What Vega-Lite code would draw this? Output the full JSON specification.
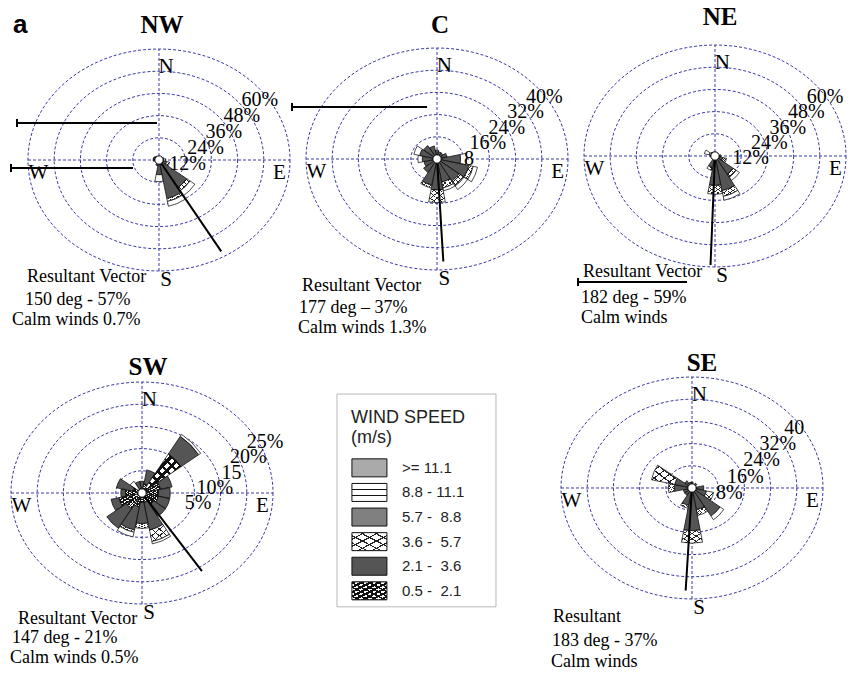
{
  "$schema": "https://vega.github.io/schema/vega-lite/v6.json",
  "width": 855,
  "height": 673,
  "autosize": {"type": "fit", "contains": "padding"},
  "padding": 0,
  "background": "#ffffff",
  "config": {"view": {"stroke": null}, "axis": {"disable": true}, "legend": {"disable": true}},
  "datasets": {
    "rings": [
      {"site": "NW", "r": 12, "lab": "12%"}, {"site": "NW", "r": 24, "lab": "24%"}, {"site": "NW", "r": 36, "lab": "36%"}, {"site": "NW", "r": 48, "lab": "48%"}, {"site": "NW", "r": 60, "lab": "60%"},
      {"site": "C", "r": 8, "lab": "8"}, {"site": "C", "r": 16, "lab": "16%"}, {"site": "C", "r": 24, "lab": "24%"}, {"site": "C", "r": 32, "lab": "32%"}, {"site": "C", "r": 40, "lab": "40%"},
      {"site": "NE", "r": 12, "lab": "12%"}, {"site": "NE", "r": 24, "lab": "24%"}, {"site": "NE", "r": 36, "lab": "36%"}, {"site": "NE", "r": 48, "lab": "48%"}, {"site": "NE", "r": 60, "lab": "60%"},
      {"site": "SW", "r": 5, "lab": "5%"}, {"site": "SW", "r": 10, "lab": "10%"}, {"site": "SW", "r": 15, "lab": "15"}, {"site": "SW", "r": 20, "lab": "20%"}, {"site": "SW", "r": 25, "lab": "25%"},
      {"site": "SE", "r": 8, "lab": "8%"}, {"site": "SE", "r": 16, "lab": "16%"}, {"site": "SE", "r": 24, "lab": "24%"}, {"site": "SE", "r": 32, "lab": "32%"}, {"site": "SE", "r": 40, "lab": "40"}
    ],
    "compass": [
      {"lab": "N", "d": 0}, {"lab": "E", "d": 90}, {"lab": "S", "d": 180}, {"lab": "W", "d": 270}
    ],
    "vectors": [
      {"site": "NW", "deg": 150, "pct": 57, "head": "Resultant Vector", "calm": "Calm winds 0.7%"},
      {"site": "C", "deg": 177, "pct": 37, "head": "Resultant Vector", "calm": "Calm winds 1.3%"},
      {"site": "NE", "deg": 182, "pct": 59, "head": "Resultant Vector", "calm": "Calm winds"},
      {"site": "SW", "deg": 147, "pct": 21, "head": "Resultant Vector", "calm": "Calm winds 0.5%"},
      {"site": "SE", "deg": 183, "pct": 37, "head": "Resultant", "calm": "Calm winds"}
    ],
    "classes": [
      {"cls": "c6", "lab": ">= 11.1", "k": 1},
      {"cls": "c5", "lab": "\u00a08.8 - 11.1", "k": 2},
      {"cls": "c4", "lab": "\u00a05.7 -\u00a0 8.8", "k": 3},
      {"cls": "c3", "lab": "\u00a03.6 -\u00a0 5.7", "k": 4},
      {"cls": "c2", "lab": "\u00a02.1 -\u00a0 3.6", "k": 5},
      {"cls": "c1", "lab": "\u00a00.5 -\u00a0 2.1", "k": 6}
    ],
    "wedges": [
      {"site": "NW", "dir": 0, "cls": "c2", "pct": 1.5},
      {"site": "NW", "dir": 22.5, "cls": "c2", "pct": 1.5},
      {"site": "NW", "dir": 45, "cls": "c1", "pct": 1}, {"site": "NW", "dir": 45, "cls": "c3", "pct": 1},
      {"site": "NW", "dir": 67.5, "cls": "c1", "pct": 1}, {"site": "NW", "dir": 67.5, "cls": "c2", "pct": 1.5},
      {"site": "NW", "dir": 90, "cls": "c1", "pct": 1}, {"site": "NW", "dir": 90, "cls": "c3", "pct": 2.5},
      {"site": "NW", "dir": 112.5, "cls": "c1", "pct": 1}, {"site": "NW", "dir": 112.5, "cls": "c2", "pct": 3}, {"site": "NW", "dir": 112.5, "cls": "c3", "pct": 1.5},
      {"site": "NW", "dir": 135, "cls": "c1", "pct": 2}, {"site": "NW", "dir": 135, "cls": "c2", "pct": 15}, {"site": "NW", "dir": 135, "cls": "c3", "pct": 2}, {"site": "NW", "dir": 135, "cls": "c5", "pct": 3},
      {"site": "NW", "dir": 157.5, "cls": "c1", "pct": 2}, {"site": "NW", "dir": 157.5, "cls": "c2", "pct": 18}, {"site": "NW", "dir": 157.5, "cls": "c3", "pct": 1.5}, {"site": "NW", "dir": 157.5, "cls": "c5", "pct": 2.5},
      {"site": "NW", "dir": 180, "cls": "c1", "pct": 1}, {"site": "NW", "dir": 180, "cls": "c2", "pct": 6.5}, {"site": "NW", "dir": 180, "cls": "c5", "pct": 3.5},
      {"site": "NW", "dir": 202.5, "cls": "c1", "pct": 1}, {"site": "NW", "dir": 202.5, "cls": "c2", "pct": 2},
      {"site": "NW", "dir": 225, "cls": "c2", "pct": 1.5},
      {"site": "NW", "dir": 247.5, "cls": "c2", "pct": 1.5},
      {"site": "NW", "dir": 270, "cls": "c1", "pct": 1}, {"site": "NW", "dir": 270, "cls": "c2", "pct": 2},
      {"site": "NW", "dir": 292.5, "cls": "c2", "pct": 3},
      {"site": "NW", "dir": 315, "cls": "c2", "pct": 2.5},
      {"site": "NW", "dir": 337.5, "cls": "c2", "pct": 1.5},

      {"site": "C", "dir": 0, "cls": "c1", "pct": 1}, {"site": "C", "dir": 0, "cls": "c2", "pct": 2},
      {"site": "C", "dir": 22.5, "cls": "c1", "pct": 1}, {"site": "C", "dir": 22.5, "cls": "c2", "pct": 1.5},
      {"site": "C", "dir": 45, "cls": "c1", "pct": 1}, {"site": "C", "dir": 45, "cls": "c2", "pct": 1.5},
      {"site": "C", "dir": 67.5, "cls": "c1", "pct": 1}, {"site": "C", "dir": 67.5, "cls": "c2", "pct": 2.5},
      {"site": "C", "dir": 90, "cls": "c1", "pct": 1}, {"site": "C", "dir": 90, "cls": "c2", "pct": 7}, {"site": "C", "dir": 90, "cls": "c5", "pct": 2},
      {"site": "C", "dir": 112.5, "cls": "c1", "pct": 1}, {"site": "C", "dir": 112.5, "cls": "c2", "pct": 10}, {"site": "C", "dir": 112.5, "cls": "c3", "pct": 1.5}, {"site": "C", "dir": 112.5, "cls": "c5", "pct": 1.5},
      {"site": "C", "dir": 135, "cls": "c1", "pct": 1}, {"site": "C", "dir": 135, "cls": "c2", "pct": 8}, {"site": "C", "dir": 135, "cls": "c3", "pct": 2}, {"site": "C", "dir": 135, "cls": "c5", "pct": 1.5},
      {"site": "C", "dir": 157.5, "cls": "c1", "pct": 1}, {"site": "C", "dir": 157.5, "cls": "c2", "pct": 7}, {"site": "C", "dir": 157.5, "cls": "c3", "pct": 2}, {"site": "C", "dir": 157.5, "cls": "c5", "pct": 1},
      {"site": "C", "dir": 180, "cls": "c1", "pct": 1.5}, {"site": "C", "dir": 180, "cls": "c2", "pct": 9}, {"site": "C", "dir": 180, "cls": "c3", "pct": 4.3},
      {"site": "C", "dir": 202.5, "cls": "c1", "pct": 1}, {"site": "C", "dir": 202.5, "cls": "c2", "pct": 8}, {"site": "C", "dir": 202.5, "cls": "c3", "pct": 1},
      {"site": "C", "dir": 225, "cls": "c1", "pct": 1}, {"site": "C", "dir": 225, "cls": "c2", "pct": 4.5},
      {"site": "C", "dir": 247.5, "cls": "c1", "pct": 1}, {"site": "C", "dir": 247.5, "cls": "c2", "pct": 3.5},
      {"site": "C", "dir": 270, "cls": "c1", "pct": 1}, {"site": "C", "dir": 270, "cls": "c2", "pct": 4}, {"site": "C", "dir": 270, "cls": "c5", "pct": 1.5},
      {"site": "C", "dir": 292.5, "cls": "c1", "pct": 1}, {"site": "C", "dir": 292.5, "cls": "c2", "pct": 5}, {"site": "C", "dir": 292.5, "cls": "c5", "pct": 2},
      {"site": "C", "dir": 315, "cls": "c1", "pct": 1}, {"site": "C", "dir": 315, "cls": "c2", "pct": 4.5},
      {"site": "C", "dir": 337.5, "cls": "c1", "pct": 1}, {"site": "C", "dir": 337.5, "cls": "c2", "pct": 3.5},

      {"site": "NE", "dir": 0, "cls": "c2", "pct": 1.5},
      {"site": "NE", "dir": 45, "cls": "c2", "pct": 1},
      {"site": "NE", "dir": 90, "cls": "c1", "pct": 1}, {"site": "NE", "dir": 90, "cls": "c2", "pct": 2},
      {"site": "NE", "dir": 112.5, "cls": "c1", "pct": 1}, {"site": "NE", "dir": 112.5, "cls": "c2", "pct": 3}, {"site": "NE", "dir": 112.5, "cls": "c3", "pct": 2},
      {"site": "NE", "dir": 135, "cls": "c1", "pct": 1}, {"site": "NE", "dir": 135, "cls": "c2", "pct": 10}, {"site": "NE", "dir": 135, "cls": "c3", "pct": 2}, {"site": "NE", "dir": 135, "cls": "c5", "pct": 2},
      {"site": "NE", "dir": 157.5, "cls": "c1", "pct": 1}, {"site": "NE", "dir": 157.5, "cls": "c2", "pct": 17}, {"site": "NE", "dir": 157.5, "cls": "c3", "pct": 3}, {"site": "NE", "dir": 157.5, "cls": "c5", "pct": 2},
      {"site": "NE", "dir": 180, "cls": "c1", "pct": 2}, {"site": "NE", "dir": 180, "cls": "c2", "pct": 13}, {"site": "NE", "dir": 180, "cls": "c3", "pct": 4.5},
      {"site": "NE", "dir": 202.5, "cls": "c1", "pct": 1}, {"site": "NE", "dir": 202.5, "cls": "c2", "pct": 5}, {"site": "NE", "dir": 202.5, "cls": "c3", "pct": 1.5},
      {"site": "NE", "dir": 225, "cls": "c2", "pct": 2},
      {"site": "NE", "dir": 270, "cls": "c1", "pct": 1}, {"site": "NE", "dir": 270, "cls": "c2", "pct": 1.5},
      {"site": "NE", "dir": 292.5, "cls": "c1", "pct": 1}, {"site": "NE", "dir": 292.5, "cls": "c3", "pct": 2}, {"site": "NE", "dir": 292.5, "cls": "c5", "pct": 2.5},
      {"site": "NE", "dir": 315, "cls": "c2", "pct": 2.5},
      {"site": "NE", "dir": 337.5, "cls": "c2", "pct": 2},

      {"site": "SW", "dir": 0, "cls": "c1", "pct": 0.5}, {"site": "SW", "dir": 0, "cls": "c2", "pct": 2},
      {"site": "SW", "dir": 22.5, "cls": "c1", "pct": 2}, {"site": "SW", "dir": 22.5, "cls": "c2", "pct": 3},
      {"site": "SW", "dir": 45, "cls": "c1", "pct": 10}, {"site": "SW", "dir": 45, "cls": "c2", "pct": 4.5}, {"site": "SW", "dir": 45, "cls": "c5", "pct": 0.5},
      {"site": "SW", "dir": 67.5, "cls": "c1", "pct": 4}, {"site": "SW", "dir": 67.5, "cls": "c2", "pct": 2.5},
      {"site": "SW", "dir": 90, "cls": "c1", "pct": 3.5}, {"site": "SW", "dir": 90, "cls": "c2", "pct": 2.5},
      {"site": "SW", "dir": 112.5, "cls": "c1", "pct": 3.5}, {"site": "SW", "dir": 112.5, "cls": "c2", "pct": 2.5},
      {"site": "SW", "dir": 135, "cls": "c1", "pct": 3}, {"site": "SW", "dir": 135, "cls": "c2", "pct": 3},
      {"site": "SW", "dir": 157.5, "cls": "c1", "pct": 2}, {"site": "SW", "dir": 157.5, "cls": "c2", "pct": 6}, {"site": "SW", "dir": 157.5, "cls": "c3", "pct": 2.5}, {"site": "SW", "dir": 157.5, "cls": "c5", "pct": 0.5},
      {"site": "SW", "dir": 180, "cls": "c1", "pct": 2}, {"site": "SW", "dir": 180, "cls": "c2", "pct": 4.5}, {"site": "SW", "dir": 180, "cls": "c3", "pct": 1},
      {"site": "SW", "dir": 202.5, "cls": "c1", "pct": 3}, {"site": "SW", "dir": 202.5, "cls": "c2", "pct": 5}, {"site": "SW", "dir": 202.5, "cls": "c3", "pct": 0.5}, {"site": "SW", "dir": 202.5, "cls": "c5", "pct": 1},
      {"site": "SW", "dir": 225, "cls": "c1", "pct": 4}, {"site": "SW", "dir": 225, "cls": "c2", "pct": 5},
      {"site": "SW", "dir": 247.5, "cls": "c1", "pct": 5}, {"site": "SW", "dir": 247.5, "cls": "c2", "pct": 1.7},
      {"site": "SW", "dir": 270, "cls": "c1", "pct": 3.5}, {"site": "SW", "dir": 270, "cls": "c2", "pct": 1},
      {"site": "SW", "dir": 292.5, "cls": "c1", "pct": 2}, {"site": "SW", "dir": 292.5, "cls": "c2", "pct": 3.5},
      {"site": "SW", "dir": 315, "cls": "c1", "pct": 1}, {"site": "SW", "dir": 315, "cls": "c5", "pct": 2},
      {"site": "SW", "dir": 337.5, "cls": "c1", "pct": 1}, {"site": "SW", "dir": 337.5, "cls": "c2", "pct": 1.5},

      {"site": "SE", "dir": 0, "cls": "c2", "pct": 2},
      {"site": "SE", "dir": 45, "cls": "c2", "pct": 2},
      {"site": "SE", "dir": 90, "cls": "c1", "pct": 1}, {"site": "SE", "dir": 90, "cls": "c2", "pct": 3},
      {"site": "SE", "dir": 112.5, "cls": "c1", "pct": 1}, {"site": "SE", "dir": 112.5, "cls": "c2", "pct": 4}, {"site": "SE", "dir": 112.5, "cls": "c3", "pct": 2.5},
      {"site": "SE", "dir": 135, "cls": "c1", "pct": 1}, {"site": "SE", "dir": 135, "cls": "c2", "pct": 10.5}, {"site": "SE", "dir": 135, "cls": "c5", "pct": 1.5},
      {"site": "SE", "dir": 157.5, "cls": "c1", "pct": 1.5}, {"site": "SE", "dir": 157.5, "cls": "c2", "pct": 6}, {"site": "SE", "dir": 157.5, "cls": "c3", "pct": 2},
      {"site": "SE", "dir": 180, "cls": "c1", "pct": 1.5}, {"site": "SE", "dir": 180, "cls": "c2", "pct": 13}, {"site": "SE", "dir": 180, "cls": "c3", "pct": 4.2},
      {"site": "SE", "dir": 202.5, "cls": "c1", "pct": 1}, {"site": "SE", "dir": 202.5, "cls": "c2", "pct": 5}, {"site": "SE", "dir": 202.5, "cls": "c3", "pct": 1},
      {"site": "SE", "dir": 225, "cls": "c2", "pct": 3},
      {"site": "SE", "dir": 247.5, "cls": "c1", "pct": 1}, {"site": "SE", "dir": 247.5, "cls": "c2", "pct": 2},
      {"site": "SE", "dir": 270, "cls": "c1", "pct": 1}, {"site": "SE", "dir": 270, "cls": "c2", "pct": 5}, {"site": "SE", "dir": 270, "cls": "c3", "pct": 2},
      {"site": "SE", "dir": 292.5, "cls": "c1", "pct": 1}, {"site": "SE", "dir": 292.5, "cls": "c2", "pct": 5}, {"site": "SE", "dir": 292.5, "cls": "c3", "pct": 8},
      {"site": "SE", "dir": 315, "cls": "c2", "pct": 3},
      {"site": "SE", "dir": 337.5, "cls": "c2", "pct": 2}
    ]
  },
  "layer": [
    {
      "layer": [
        {
          "data": {"name": "rings"},
          "transform": [{"filter": "datum.site === 'NW'"}],
          "mark": {"type": "point", "shape": "M1,0C1,0.4678,0.5523,0.847,0,0.847C-0.5523,0.847,-1,0.4678,-1,0C-1,-0.4678,-0.5523,-0.847,0,-0.847C0.5523,-0.847,1,-0.4678,1,0Z", "filled": false, "stroke": "#3a3aa8", "strokeWidth": 1, "strokeDash": [3, 2], "opacity": 1},
          "encoding": {
            "x": {"datum": 0, "type": "quantitative", "scale": {"domain": [-72.82, 318.78], "nice": false, "zero": false}, "axis": null},
            "y": {"datum": 0, "type": "quantitative", "scale": {"domain": [-277.3, 86.49], "nice": false, "zero": false}, "axis": null},
            "size": {"field": "r", "type": "quantitative", "scale": {"type": "pow", "exponent": 2, "domain": [0, 60], "range": [0, 68644]}, "legend": null}
          }
        },
        {"data": {"values": [{}]}, "mark": {"type": "rule", "stroke": "#3a3aa8", "strokeWidth": 1, "strokeDash": [3, 2]}, "encoding": {"x": {"datum": -60, "type": "quantitative"}, "x2": {"datum": 60}, "y": {"datum": 0, "type": "quantitative"}}},
        {"data": {"values": [{}]}, "mark": {"type": "rule", "stroke": "#3a3aa8", "strokeWidth": 1, "strokeDash": [3, 2]}, "encoding": {"y": {"datum": -60, "type": "quantitative"}, "y2": {"datum": 60}, "x": {"datum": 0, "type": "quantitative"}}},
        {"data": {"values": [{}]}, "mark": {"type": "rule", "stroke": "#000", "strokeWidth": 2}, "encoding": {"x": {"datum": -65.04, "type": "quantitative"}, "x2": {"datum": -0.92}, "y": {"datum": 20, "type": "quantitative"}}},
        {"data": {"values": [{}]}, "mark": {"type": "point", "shape": "M0,-1V1", "size": 64, "filled": false, "stroke": "#000", "strokeWidth": 2, "opacity": 1}, "encoding": {"x": {"datum": -65.04, "type": "quantitative"}, "y": {"datum": 20, "type": "quantitative"}}},
        {"data": {"values": [{}]}, "mark": {"type": "rule", "stroke": "#000", "strokeWidth": 2}, "encoding": {"x": {"datum": -67.79, "type": "quantitative"}, "x2": {"datum": -11.91}, "y": {"datum": -4.32, "type": "quantitative"}}},
        {"data": {"values": [{}]}, "mark": {"type": "point", "shape": "M0,-1V1", "size": 64, "filled": false, "stroke": "#000", "strokeWidth": 2, "opacity": 1}, "encoding": {"x": {"datum": -67.79, "type": "quantitative"}, "y": {"datum": -4.32, "type": "quantitative"}}},
        {
          "data": {"name": "wedges"},
          "transform": [
            {"filter": "datum.site === 'NW'"},
            {"stack": "pct", "groupby": ["dir"], "sort": [{"field": "cls", "order": "ascending"}], "as": ["r0", "r1"]},
            {"calculate": "datum.dir - 11", "as": "t0"},
            {"calculate": "datum.dir + 11", "as": "t1"}
          ],
          "mark": {"type": "arc", "stroke": "#000", "strokeWidth": 0.7},
          "encoding": {
            "x": {"datum": 0, "type": "quantitative"},
            "y": {"datum": 0, "type": "quantitative"},
            "theta": {"field": "t0", "type": "quantitative", "stack": null, "scale": {"domain": [0, 360], "range": [0, 6.283185307179586], "zero": false, "nice": false}},
            "theta2": {"field": "t1"},
            "radius": {"field": "r1", "type": "quantitative", "stack": null, "scale": {"type": "linear", "domain": [0, 60], "range": [0, 118], "zero": true, "nice": false}},
            "radius2": {"field": "r0"},
            "fill": {"condition": [
              {"test": "datum.cls === 'c1'", "value": {"gradient": "linear", "x1": 0, "y1": 0, "x2": 1, "y2": 1, "stops": [{"offset": 0, "color": "#111"}, {"offset": 0.0625, "color": "#111"}, {"offset": 0.0625, "color": "#fff"}, {"offset": 0.125, "color": "#fff"}, {"offset": 0.125, "color": "#111"}, {"offset": 0.1875, "color": "#111"}, {"offset": 0.1875, "color": "#fff"}, {"offset": 0.25, "color": "#fff"}, {"offset": 0.25, "color": "#111"}, {"offset": 0.3125, "color": "#111"}, {"offset": 0.3125, "color": "#fff"}, {"offset": 0.375, "color": "#fff"}, {"offset": 0.375, "color": "#111"}, {"offset": 0.4375, "color": "#111"}, {"offset": 0.4375, "color": "#fff"}, {"offset": 0.5, "color": "#fff"}, {"offset": 0.5, "color": "#111"}, {"offset": 0.5625, "color": "#111"}, {"offset": 0.5625, "color": "#fff"}, {"offset": 0.625, "color": "#fff"}, {"offset": 0.625, "color": "#111"}, {"offset": 0.6875, "color": "#111"}, {"offset": 0.6875, "color": "#fff"}, {"offset": 0.75, "color": "#fff"}, {"offset": 0.75, "color": "#111"}, {"offset": 0.8125, "color": "#111"}, {"offset": 0.8125, "color": "#fff"}, {"offset": 0.875, "color": "#fff"}, {"offset": 0.875, "color": "#111"}, {"offset": 0.9375, "color": "#111"}, {"offset": 0.9375, "color": "#fff"}, {"offset": 1, "color": "#fff"}]}},
              {"test": "datum.cls === 'c3'", "value": {"gradient": "linear", "x1": 0, "y1": 0, "x2": 1, "y2": 1, "stops": [{"offset": 0, "color": "#fff"}, {"offset": 0.165, "color": "#fff"}, {"offset": 0.165, "color": "#222"}, {"offset": 0.2, "color": "#222"}, {"offset": 0.2, "color": "#fff"}, {"offset": 0.365, "color": "#fff"}, {"offset": 0.365, "color": "#222"}, {"offset": 0.4, "color": "#222"}, {"offset": 0.4, "color": "#fff"}, {"offset": 0.565, "color": "#fff"}, {"offset": 0.565, "color": "#222"}, {"offset": 0.6, "color": "#222"}, {"offset": 0.6, "color": "#fff"}, {"offset": 0.765, "color": "#fff"}, {"offset": 0.765, "color": "#222"}, {"offset": 0.8, "color": "#222"}, {"offset": 0.8, "color": "#fff"}, {"offset": 0.965, "color": "#fff"}, {"offset": 0.965, "color": "#222"}, {"offset": 1, "color": "#222"}]}},
              {"test": "datum.cls === 'c4'", "value": "#808080"},
              {"test": "datum.cls === 'c5'", "value": "#ffffff"},
              {"test": "datum.cls === 'c6'", "value": "#aaaaaa"}
            ], "value": "#555555"}
          }
        },
        {
          "data": {"name": "wedges"},
          "transform": [
            {"filter": "datum.site === 'NW'"},
            {"stack": "pct", "groupby": ["dir"], "sort": [{"field": "cls", "order": "ascending"}], "as": ["r0", "r1"]},
            {"calculate": "datum.dir - 11", "as": "t0"},
            {"calculate": "datum.dir + 11", "as": "t1"},
            {"filter": "datum.cls === 'c3' || datum.cls === 'c1'"}
          ],
          "mark": {"type": "arc", "strokeWidth": 0},
          "encoding": {
            "x": {"datum": 0, "type": "quantitative"},
            "y": {"datum": 0, "type": "quantitative"},
            "theta": {"field": "t0", "type": "quantitative", "stack": null},
            "theta2": {"field": "t1"},
            "radius": {"field": "r1", "type": "quantitative", "stack": null},
            "radius2": {"field": "r0"},
            "fill": {"condition": [
              {"test": "datum.cls === 'c1'", "value": {"gradient": "linear", "x1": 1, "y1": 0, "x2": 0, "y2": 1, "stops": [{"offset": 0, "color": "#111"}, {"offset": 0.045, "color": "#111"}, {"offset": 0.045, "color": "rgba(0,0,0,0)"}, {"offset": 0.125, "color": "rgba(0,0,0,0)"}, {"offset": 0.125, "color": "#111"}, {"offset": 0.17, "color": "#111"}, {"offset": 0.17, "color": "rgba(0,0,0,0)"}, {"offset": 0.25, "color": "rgba(0,0,0,0)"}, {"offset": 0.25, "color": "#111"}, {"offset": 0.295, "color": "#111"}, {"offset": 0.295, "color": "rgba(0,0,0,0)"}, {"offset": 0.375, "color": "rgba(0,0,0,0)"}, {"offset": 0.375, "color": "#111"}, {"offset": 0.42, "color": "#111"}, {"offset": 0.42, "color": "rgba(0,0,0,0)"}, {"offset": 0.5, "color": "rgba(0,0,0,0)"}, {"offset": 0.5, "color": "#111"}, {"offset": 0.545, "color": "#111"}, {"offset": 0.545, "color": "rgba(0,0,0,0)"}, {"offset": 0.625, "color": "rgba(0,0,0,0)"}, {"offset": 0.625, "color": "#111"}, {"offset": 0.67, "color": "#111"}, {"offset": 0.67, "color": "rgba(0,0,0,0)"}, {"offset": 0.75, "color": "rgba(0,0,0,0)"}, {"offset": 0.75, "color": "#111"}, {"offset": 0.795, "color": "#111"}, {"offset": 0.795, "color": "rgba(0,0,0,0)"}, {"offset": 0.875, "color": "rgba(0,0,0,0)"}, {"offset": 0.875, "color": "#111"}, {"offset": 0.92, "color": "#111"}, {"offset": 0.92, "color": "rgba(0,0,0,0)"}, {"offset": 1, "color": "rgba(0,0,0,0)"}]}}
            ], "value": {"gradient": "linear", "x1": 1, "y1": 0, "x2": 0, "y2": 1, "stops": [{"offset": 0, "color": "rgba(0,0,0,0)"}, {"offset": 0.165, "color": "rgba(0,0,0,0)"}, {"offset": 0.165, "color": "#222"}, {"offset": 0.2, "color": "#222"}, {"offset": 0.2, "color": "rgba(0,0,0,0)"}, {"offset": 0.365, "color": "rgba(0,0,0,0)"}, {"offset": 0.365, "color": "#222"}, {"offset": 0.4, "color": "#222"}, {"offset": 0.4, "color": "rgba(0,0,0,0)"}, {"offset": 0.565, "color": "rgba(0,0,0,0)"}, {"offset": 0.565, "color": "#222"}, {"offset": 0.6, "color": "#222"}, {"offset": 0.6, "color": "rgba(0,0,0,0)"}, {"offset": 0.765, "color": "rgba(0,0,0,0)"}, {"offset": 0.765, "color": "#222"}, {"offset": 0.8, "color": "#222"}, {"offset": 0.8, "color": "rgba(0,0,0,0)"}, {"offset": 0.965, "color": "rgba(0,0,0,0)"}, {"offset": 0.965, "color": "#222"}, {"offset": 1, "color": "#222"}]}}
          }
        },
        {
          "data": {"name": "vectors"},
          "transform": [{"filter": "datum.site === 'NW'"}, {"calculate": "0", "as": "o"}, {"calculate": "datum.pct * sin(datum.deg * PI / 180)", "as": "ex"}, {"calculate": "datum.pct * cos(datum.deg * PI / 180)", "as": "ey"}],
          "mark": {"type": "rule", "stroke": "#000", "strokeWidth": 2},
          "encoding": {"x": {"field": "o", "type": "quantitative"}, "y": {"field": "o", "type": "quantitative"}, "x2": {"field": "ex"}, "y2": {"field": "ey"}}
        },
        {"data": {"values": [{}]}, "mark": {"type": "point", "shape": "circle", "size": 70, "filled": true, "fill": "#fff", "stroke": "#000", "strokeWidth": 1, "opacity": 1}, "encoding": {"x": {"datum": 0, "type": "quantitative"}, "y": {"datum": 0, "type": "quantitative"}}},
        {
          "data": {"name": "rings"},
          "transform": [{"filter": "datum.site === 'NW'"}, {"calculate": "4.8 + 0.69 * datum.r", "as": "lx"}, {"calculate": "-10.8 + 0.72 * datum.r", "as": "ly"}],
          "mark": {"type": "text", "font": "Liberation Serif", "fontSize": 20, "align": "center", "baseline": "middle", "fill": "#000"},
          "encoding": {"x": {"field": "lx", "type": "quantitative"}, "y": {"field": "ly", "type": "quantitative"}, "text": {"field": "lab"}}
        },
        {
          "data": {"name": "compass"},
          "transform": [{"calculate": "60 * (0.92 * sin(datum.d * PI / 180) + 0.055 * abs(cos(datum.d * PI / 180)))", "as": "cx"}, {"calculate": "60 * (0.96 * cos(datum.d * PI / 180) - 0.12)", "as": "cy"}],
          "mark": {"type": "text", "font": "Liberation Serif", "fontSize": 21, "align": "center", "baseline": "middle", "fill": "#000"},
          "encoding": {"x": {"field": "cx", "type": "quantitative"}, "y": {"field": "cy", "type": "quantitative"}, "text": {"field": "lab"}}
        },
        {"data": {"name": "vectors"}, "transform": [{"filter": "datum.site === 'NW'"}], "mark": {"type": "text", "font": "Liberation Serif", "fontSize": 25, "fontWeight": "bold", "align": "center", "baseline": "middle", "fill": "#000"}, "encoding": {"x": {"datum": 1.37, "type": "quantitative"}, "y": {"datum": 72.97, "type": "quantitative"}, "text": {"field": "site"}}},
        {"data": {"values": [{}]}, "mark": {"type": "text", "text": "a", "font": "Liberation Sans", "fontSize": 26, "fontWeight": "bold", "align": "left", "baseline": "middle", "fill": "#000"}, "encoding": {"x": {"datum": -66.87, "type": "quantitative"}, "y": {"datum": 72.97, "type": "quantitative"}}},
        {"data": {"name": "vectors"}, "transform": [{"filter": "datum.site === 'NW'"}], "mark": {"type": "text", "font": "Liberation Serif", "fontSize": 18, "align": "left", "baseline": "middle", "fill": "#000"}, "encoding": {"x": {"datum": -60.46, "type": "quantitative"}, "y": {"datum": -63.24, "type": "quantitative"}, "text": {"field": "head"}}},
        {"data": {"name": "vectors"}, "transform": [{"filter": "datum.site === 'NW'"}, {"calculate": "datum.deg + ' deg - ' + datum.pct + '%'", "as": "line2"}], "mark": {"type": "text", "font": "Liberation Serif", "fontSize": 18, "align": "left", "baseline": "middle", "fill": "#000"}, "encoding": {"x": {"datum": -61.37, "type": "quantitative"}, "y": {"datum": -75.68, "type": "quantitative"}, "text": {"field": "line2"}}},
        {"data": {"name": "vectors"}, "transform": [{"filter": "datum.site === 'NW'"}], "mark": {"type": "text", "font": "Liberation Serif", "fontSize": 18, "align": "left", "baseline": "middle", "fill": "#000"}, "encoding": {"x": {"datum": -67.33, "type": "quantitative"}, "y": {"datum": -86.49, "type": "quantitative"}, "text": {"field": "calm"}}}
      ]
    },
    {
      "layer": [
        {
          "data": {"name": "rings"},
          "transform": [{"filter": "datum.site === 'C'"}],
          "mark": {"type": "point", "shape": "M1,0C1,0.4678,0.5523,0.847,0,0.847C-0.5523,0.847,-1,0.4678,-1,0C-1,-0.4678,-0.5523,-0.847,0,-0.847C0.5523,-0.847,1,-0.4678,1,0Z", "filled": false, "stroke": "#3a3aa8", "strokeWidth": 1, "strokeDash": [3, 2], "opacity": 1},
          "encoding": {
            "x": {"datum": 0, "type": "quantitative", "scale": {"domain": [-133.44, 127.63], "nice": false, "zero": false}, "axis": null},
            "y": {"datum": 0, "type": "quantitative", "scale": {"domain": [-185.23, 57.3], "nice": false, "zero": false}, "axis": null},
            "size": {"field": "r", "type": "quantitative", "scale": {"type": "pow", "exponent": 2, "domain": [0, 40], "range": [0, 68644]}, "legend": null}
          }
        },
        {"data": {"values": [{}]}, "mark": {"type": "rule", "stroke": "#3a3aa8", "strokeWidth": 1, "strokeDash": [3, 2]}, "encoding": {"x": {"datum": -40, "type": "quantitative"}, "x2": {"datum": 40}, "y": {"datum": 0, "type": "quantitative"}}},
        {"data": {"values": [{}]}, "mark": {"type": "rule", "stroke": "#3a3aa8", "strokeWidth": 1, "strokeDash": [3, 2]}, "encoding": {"y": {"datum": -40, "type": "quantitative"}, "y2": {"datum": 40}, "x": {"datum": 0, "type": "quantitative"}}},
        {"data": {"values": [{}]}, "mark": {"type": "rule", "stroke": "#000", "strokeWidth": 2}, "encoding": {"x": {"datum": -44.27, "type": "quantitative"}, "x2": {"datum": -3.05}, "y": {"datum": 18.74, "type": "quantitative"}}},
        {"data": {"values": [{}]}, "mark": {"type": "point", "shape": "M0,-1V1", "size": 64, "filled": false, "stroke": "#000", "strokeWidth": 2, "opacity": 1}, "encoding": {"x": {"datum": -44.27, "type": "quantitative"}, "y": {"datum": 18.74, "type": "quantitative"}}},
        {
          "data": {"name": "wedges"},
          "transform": [
            {"filter": "datum.site === 'C'"},
            {"stack": "pct", "groupby": ["dir"], "sort": [{"field": "cls", "order": "ascending"}], "as": ["r0", "r1"]},
            {"calculate": "datum.dir - 11", "as": "t0"},
            {"calculate": "datum.dir + 11", "as": "t1"}
          ],
          "mark": {"type": "arc", "stroke": "#000", "strokeWidth": 0.7},
          "encoding": {
            "x": {"datum": 0, "type": "quantitative"},
            "y": {"datum": 0, "type": "quantitative"},
            "theta": {"field": "t0", "type": "quantitative", "stack": null, "scale": {"domain": [0, 360], "range": [0, 6.283185307179586], "zero": false, "nice": false}},
            "theta2": {"field": "t1"},
            "radius": {"field": "r1", "type": "quantitative", "stack": null, "scale": {"type": "linear", "domain": [0, 40], "range": [0, 118], "zero": true, "nice": false}},
            "radius2": {"field": "r0"},
            "fill": {"condition": [
              {"test": "datum.cls === 'c1'", "value": {"gradient": "linear", "x1": 0, "y1": 0, "x2": 1, "y2": 1, "stops": [{"offset": 0, "color": "#111"}, {"offset": 0.0625, "color": "#111"}, {"offset": 0.0625, "color": "#fff"}, {"offset": 0.125, "color": "#fff"}, {"offset": 0.125, "color": "#111"}, {"offset": 0.1875, "color": "#111"}, {"offset": 0.1875, "color": "#fff"}, {"offset": 0.25, "color": "#fff"}, {"offset": 0.25, "color": "#111"}, {"offset": 0.3125, "color": "#111"}, {"offset": 0.3125, "color": "#fff"}, {"offset": 0.375, "color": "#fff"}, {"offset": 0.375, "color": "#111"}, {"offset": 0.4375, "color": "#111"}, {"offset": 0.4375, "color": "#fff"}, {"offset": 0.5, "color": "#fff"}, {"offset": 0.5, "color": "#111"}, {"offset": 0.5625, "color": "#111"}, {"offset": 0.5625, "color": "#fff"}, {"offset": 0.625, "color": "#fff"}, {"offset": 0.625, "color": "#111"}, {"offset": 0.6875, "color": "#111"}, {"offset": 0.6875, "color": "#fff"}, {"offset": 0.75, "color": "#fff"}, {"offset": 0.75, "color": "#111"}, {"offset": 0.8125, "color": "#111"}, {"offset": 0.8125, "color": "#fff"}, {"offset": 0.875, "color": "#fff"}, {"offset": 0.875, "color": "#111"}, {"offset": 0.9375, "color": "#111"}, {"offset": 0.9375, "color": "#fff"}, {"offset": 1, "color": "#fff"}]}},
              {"test": "datum.cls === 'c3'", "value": {"gradient": "linear", "x1": 0, "y1": 0, "x2": 1, "y2": 1, "stops": [{"offset": 0, "color": "#fff"}, {"offset": 0.165, "color": "#fff"}, {"offset": 0.165, "color": "#222"}, {"offset": 0.2, "color": "#222"}, {"offset": 0.2, "color": "#fff"}, {"offset": 0.365, "color": "#fff"}, {"offset": 0.365, "color": "#222"}, {"offset": 0.4, "color": "#222"}, {"offset": 0.4, "color": "#fff"}, {"offset": 0.565, "color": "#fff"}, {"offset": 0.565, "color": "#222"}, {"offset": 0.6, "color": "#222"}, {"offset": 0.6, "color": "#fff"}, {"offset": 0.765, "color": "#fff"}, {"offset": 0.765, "color": "#222"}, {"offset": 0.8, "color": "#222"}, {"offset": 0.8, "color": "#fff"}, {"offset": 0.965, "color": "#fff"}, {"offset": 0.965, "color": "#222"}, {"offset": 1, "color": "#222"}]}},
              {"test": "datum.cls === 'c4'", "value": "#808080"},
              {"test": "datum.cls === 'c5'", "value": "#ffffff"},
              {"test": "datum.cls === 'c6'", "value": "#aaaaaa"}
            ], "value": "#555555"}
          }
        },
        {
          "data": {"name": "wedges"},
          "transform": [
            {"filter": "datum.site === 'C'"},
            {"stack": "pct", "groupby": ["dir"], "sort": [{"field": "cls", "order": "ascending"}], "as": ["r0", "r1"]},
            {"calculate": "datum.dir - 11", "as": "t0"},
            {"calculate": "datum.dir + 11", "as": "t1"},
            {"filter": "datum.cls === 'c3' || datum.cls === 'c1'"}
          ],
          "mark": {"type": "arc", "strokeWidth": 0},
          "encoding": {
            "x": {"datum": 0, "type": "quantitative"},
            "y": {"datum": 0, "type": "quantitative"},
            "theta": {"field": "t0", "type": "quantitative", "stack": null},
            "theta2": {"field": "t1"},
            "radius": {"field": "r1", "type": "quantitative", "stack": null},
            "radius2": {"field": "r0"},
            "fill": {"condition": [
              {"test": "datum.cls === 'c1'", "value": {"gradient": "linear", "x1": 1, "y1": 0, "x2": 0, "y2": 1, "stops": [{"offset": 0, "color": "#111"}, {"offset": 0.045, "color": "#111"}, {"offset": 0.045, "color": "rgba(0,0,0,0)"}, {"offset": 0.125, "color": "rgba(0,0,0,0)"}, {"offset": 0.125, "color": "#111"}, {"offset": 0.17, "color": "#111"}, {"offset": 0.17, "color": "rgba(0,0,0,0)"}, {"offset": 0.25, "color": "rgba(0,0,0,0)"}, {"offset": 0.25, "color": "#111"}, {"offset": 0.295, "color": "#111"}, {"offset": 0.295, "color": "rgba(0,0,0,0)"}, {"offset": 0.375, "color": "rgba(0,0,0,0)"}, {"offset": 0.375, "color": "#111"}, {"offset": 0.42, "color": "#111"}, {"offset": 0.42, "color": "rgba(0,0,0,0)"}, {"offset": 0.5, "color": "rgba(0,0,0,0)"}, {"offset": 0.5, "color": "#111"}, {"offset": 0.545, "color": "#111"}, {"offset": 0.545, "color": "rgba(0,0,0,0)"}, {"offset": 0.625, "color": "rgba(0,0,0,0)"}, {"offset": 0.625, "color": "#111"}, {"offset": 0.67, "color": "#111"}, {"offset": 0.67, "color": "rgba(0,0,0,0)"}, {"offset": 0.75, "color": "rgba(0,0,0,0)"}, {"offset": 0.75, "color": "#111"}, {"offset": 0.795, "color": "#111"}, {"offset": 0.795, "color": "rgba(0,0,0,0)"}, {"offset": 0.875, "color": "rgba(0,0,0,0)"}, {"offset": 0.875, "color": "#111"}, {"offset": 0.92, "color": "#111"}, {"offset": 0.92, "color": "rgba(0,0,0,0)"}, {"offset": 1, "color": "rgba(0,0,0,0)"}]}}
            ], "value": {"gradient": "linear", "x1": 1, "y1": 0, "x2": 0, "y2": 1, "stops": [{"offset": 0, "color": "rgba(0,0,0,0)"}, {"offset": 0.165, "color": "rgba(0,0,0,0)"}, {"offset": 0.165, "color": "#222"}, {"offset": 0.2, "color": "#222"}, {"offset": 0.2, "color": "rgba(0,0,0,0)"}, {"offset": 0.365, "color": "rgba(0,0,0,0)"}, {"offset": 0.365, "color": "#222"}, {"offset": 0.4, "color": "#222"}, {"offset": 0.4, "color": "rgba(0,0,0,0)"}, {"offset": 0.565, "color": "rgba(0,0,0,0)"}, {"offset": 0.565, "color": "#222"}, {"offset": 0.6, "color": "#222"}, {"offset": 0.6, "color": "rgba(0,0,0,0)"}, {"offset": 0.765, "color": "rgba(0,0,0,0)"}, {"offset": 0.765, "color": "#222"}, {"offset": 0.8, "color": "#222"}, {"offset": 0.8, "color": "rgba(0,0,0,0)"}, {"offset": 0.965, "color": "rgba(0,0,0,0)"}, {"offset": 0.965, "color": "#222"}, {"offset": 1, "color": "#222"}]}}
          }
        },
        {
          "data": {"name": "vectors"},
          "transform": [{"filter": "datum.site === 'C'"}, {"calculate": "0", "as": "o"}, {"calculate": "datum.pct * sin(datum.deg * PI / 180)", "as": "ex"}, {"calculate": "datum.pct * cos(datum.deg * PI / 180)", "as": "ey"}],
          "mark": {"type": "rule", "stroke": "#000", "strokeWidth": 2},
          "encoding": {"x": {"field": "o", "type": "quantitative"}, "y": {"field": "o", "type": "quantitative"}, "x2": {"field": "ex"}, "y2": {"field": "ey"}}
        },
        {"data": {"values": [{}]}, "mark": {"type": "point", "shape": "circle", "size": 70, "filled": true, "fill": "#fff", "stroke": "#000", "strokeWidth": 1, "opacity": 1}, "encoding": {"x": {"datum": 0, "type": "quantitative"}, "y": {"datum": 0, "type": "quantitative"}}},
        {
          "data": {"name": "rings"},
          "transform": [{"filter": "datum.site === 'C'"}, {"calculate": "4 + 0.72 * datum.r", "as": "lx"}, {"calculate": "-5.6 + 0.7 * datum.r", "as": "ly"}],
          "mark": {"type": "text", "font": "Liberation Serif", "fontSize": 20, "align": "center", "baseline": "middle", "fill": "#000"},
          "encoding": {"x": {"field": "lx", "type": "quantitative"}, "y": {"field": "ly", "type": "quantitative"}, "text": {"field": "lab"}}
        },
        {
          "data": {"name": "compass"},
          "transform": [{"calculate": "40 * (0.92 * sin(datum.d * PI / 180) + 0.055 * abs(cos(datum.d * PI / 180)))", "as": "cx"}, {"calculate": "40 * (0.96 * cos(datum.d * PI / 180) - 0.12)", "as": "cy"}],
          "mark": {"type": "text", "font": "Liberation Serif", "fontSize": 21, "align": "center", "baseline": "middle", "fill": "#000"},
          "encoding": {"x": {"field": "cx", "type": "quantitative"}, "y": {"field": "cy", "type": "quantitative"}, "text": {"field": "lab"}}
        },
        {"data": {"name": "vectors"}, "transform": [{"filter": "datum.site === 'C'"}], "mark": {"type": "text", "font": "Liberation Serif", "fontSize": 25, "fontWeight": "bold", "align": "center", "baseline": "middle", "fill": "#000"}, "encoding": {"x": {"datum": 0.92, "type": "quantitative"}, "y": {"datum": 48.29, "type": "quantitative"}, "text": {"field": "site"}}},
        {"data": {"name": "vectors"}, "transform": [{"filter": "datum.site === 'C'"}], "mark": {"type": "text", "font": "Liberation Serif", "fontSize": 18, "align": "left", "baseline": "middle", "fill": "#000"}, "encoding": {"x": {"datum": -41.22, "type": "quantitative"}, "y": {"datum": -45.77, "type": "quantitative"}, "text": {"field": "head"}}},
        {"data": {"name": "vectors"}, "transform": [{"filter": "datum.site === 'C'"}, {"calculate": "datum.deg + ' deg \u2013 ' + datum.pct + '%'", "as": "line2"}], "mark": {"type": "text", "font": "Liberation Serif", "fontSize": 18, "align": "left", "baseline": "middle", "fill": "#000"}, "encoding": {"x": {"datum": -42.14, "type": "quantitative"}, "y": {"datum": -53.69, "type": "quantitative"}, "text": {"field": "line2"}}},
        {"data": {"name": "vectors"}, "transform": [{"filter": "datum.site === 'C'"}], "mark": {"type": "text", "font": "Liberation Serif", "fontSize": 18, "align": "left", "baseline": "middle", "fill": "#000"}, "encoding": {"x": {"datum": -42.44, "type": "quantitative"}, "y": {"datum": -60.9, "type": "quantitative"}, "text": {"field": "calm"}}}
      ]
    },
    {
      "layer": [
        {
          "data": {"name": "rings"},
          "transform": [{"filter": "datum.site === 'NE'"}],
          "mark": {"type": "point", "shape": "M1,0C1,0.4678,0.5523,0.847,0,0.847C-0.5523,0.847,-1,0.4678,-1,0C-1,-0.4678,-0.5523,-0.847,0,-0.847C0.5523,-0.847,1,-0.4678,1,0Z", "filled": false, "stroke": "#3a3aa8", "strokeWidth": 1, "strokeDash": [3, 2], "opacity": 1},
          "encoding": {
            "x": {"datum": 0, "type": "quantitative", "scale": {"domain": [-327.48, 64.12], "nice": false, "zero": false}, "axis": null},
            "y": {"datum": 0, "type": "quantitative", "scale": {"domain": [-279.46, 84.32], "nice": false, "zero": false}, "axis": null},
            "size": {"field": "r", "type": "quantitative", "scale": {"type": "pow", "exponent": 2, "domain": [0, 60], "range": [0, 68644]}, "legend": null}
          }
        },
        {"data": {"values": [{}]}, "mark": {"type": "rule", "stroke": "#3a3aa8", "strokeWidth": 1, "strokeDash": [3, 2]}, "encoding": {"x": {"datum": -60, "type": "quantitative"}, "x2": {"datum": 60}, "y": {"datum": 0, "type": "quantitative"}}},
        {"data": {"values": [{}]}, "mark": {"type": "rule", "stroke": "#3a3aa8", "strokeWidth": 1, "strokeDash": [3, 2]}, "encoding": {"y": {"datum": -60, "type": "quantitative"}, "y2": {"datum": 60}, "x": {"datum": 0, "type": "quantitative"}}},
        {"data": {"values": [{}]}, "mark": {"type": "rule", "stroke": "#000", "strokeWidth": 2}, "encoding": {"x": {"datum": -62.75, "type": "quantitative"}, "x2": {"datum": -12.82}, "y": {"datum": -68.11, "type": "quantitative"}}},
        {"data": {"values": [{}]}, "mark": {"type": "point", "shape": "M0,-1V1", "size": 64, "filled": false, "stroke": "#000", "strokeWidth": 2, "opacity": 1}, "encoding": {"x": {"datum": -62.75, "type": "quantitative"}, "y": {"datum": -68.11, "type": "quantitative"}}},
        {
          "data": {"name": "wedges"},
          "transform": [
            {"filter": "datum.site === 'NE'"},
            {"stack": "pct", "groupby": ["dir"], "sort": [{"field": "cls", "order": "ascending"}], "as": ["r0", "r1"]},
            {"calculate": "datum.dir - 11", "as": "t0"},
            {"calculate": "datum.dir + 11", "as": "t1"}
          ],
          "mark": {"type": "arc", "stroke": "#000", "strokeWidth": 0.7},
          "encoding": {
            "x": {"datum": 0, "type": "quantitative"},
            "y": {"datum": 0, "type": "quantitative"},
            "theta": {"field": "t0", "type": "quantitative", "stack": null, "scale": {"domain": [0, 360], "range": [0, 6.283185307179586], "zero": false, "nice": false}},
            "theta2": {"field": "t1"},
            "radius": {"field": "r1", "type": "quantitative", "stack": null, "scale": {"type": "linear", "domain": [0, 60], "range": [0, 118], "zero": true, "nice": false}},
            "radius2": {"field": "r0"},
            "fill": {"condition": [
              {"test": "datum.cls === 'c1'", "value": {"gradient": "linear", "x1": 0, "y1": 0, "x2": 1, "y2": 1, "stops": [{"offset": 0, "color": "#111"}, {"offset": 0.0625, "color": "#111"}, {"offset": 0.0625, "color": "#fff"}, {"offset": 0.125, "color": "#fff"}, {"offset": 0.125, "color": "#111"}, {"offset": 0.1875, "color": "#111"}, {"offset": 0.1875, "color": "#fff"}, {"offset": 0.25, "color": "#fff"}, {"offset": 0.25, "color": "#111"}, {"offset": 0.3125, "color": "#111"}, {"offset": 0.3125, "color": "#fff"}, {"offset": 0.375, "color": "#fff"}, {"offset": 0.375, "color": "#111"}, {"offset": 0.4375, "color": "#111"}, {"offset": 0.4375, "color": "#fff"}, {"offset": 0.5, "color": "#fff"}, {"offset": 0.5, "color": "#111"}, {"offset": 0.5625, "color": "#111"}, {"offset": 0.5625, "color": "#fff"}, {"offset": 0.625, "color": "#fff"}, {"offset": 0.625, "color": "#111"}, {"offset": 0.6875, "color": "#111"}, {"offset": 0.6875, "color": "#fff"}, {"offset": 0.75, "color": "#fff"}, {"offset": 0.75, "color": "#111"}, {"offset": 0.8125, "color": "#111"}, {"offset": 0.8125, "color": "#fff"}, {"offset": 0.875, "color": "#fff"}, {"offset": 0.875, "color": "#111"}, {"offset": 0.9375, "color": "#111"}, {"offset": 0.9375, "color": "#fff"}, {"offset": 1, "color": "#fff"}]}},
              {"test": "datum.cls === 'c3'", "value": {"gradient": "linear", "x1": 0, "y1": 0, "x2": 1, "y2": 1, "stops": [{"offset": 0, "color": "#fff"}, {"offset": 0.165, "color": "#fff"}, {"offset": 0.165, "color": "#222"}, {"offset": 0.2, "color": "#222"}, {"offset": 0.2, "color": "#fff"}, {"offset": 0.365, "color": "#fff"}, {"offset": 0.365, "color": "#222"}, {"offset": 0.4, "color": "#222"}, {"offset": 0.4, "color": "#fff"}, {"offset": 0.565, "color": "#fff"}, {"offset": 0.565, "color": "#222"}, {"offset": 0.6, "color": "#222"}, {"offset": 0.6, "color": "#fff"}, {"offset": 0.765, "color": "#fff"}, {"offset": 0.765, "color": "#222"}, {"offset": 0.8, "color": "#222"}, {"offset": 0.8, "color": "#fff"}, {"offset": 0.965, "color": "#fff"}, {"offset": 0.965, "color": "#222"}, {"offset": 1, "color": "#222"}]}},
              {"test": "datum.cls === 'c4'", "value": "#808080"},
              {"test": "datum.cls === 'c5'", "value": "#ffffff"},
              {"test": "datum.cls === 'c6'", "value": "#aaaaaa"}
            ], "value": "#555555"}
          }
        },
        {
          "data": {"name": "wedges"},
          "transform": [
            {"filter": "datum.site === 'NE'"},
            {"stack": "pct", "groupby": ["dir"], "sort": [{"field": "cls", "order": "ascending"}], "as": ["r0", "r1"]},
            {"calculate": "datum.dir - 11", "as": "t0"},
            {"calculate": "datum.dir + 11", "as": "t1"},
            {"filter": "datum.cls === 'c3' || datum.cls === 'c1'"}
          ],
          "mark": {"type": "arc", "strokeWidth": 0},
          "encoding": {
            "x": {"datum": 0, "type": "quantitative"},
            "y": {"datum": 0, "type": "quantitative"},
            "theta": {"field": "t0", "type": "quantitative", "stack": null},
            "theta2": {"field": "t1"},
            "radius": {"field": "r1", "type": "quantitative", "stack": null},
            "radius2": {"field": "r0"},
            "fill": {"condition": [
              {"test": "datum.cls === 'c1'", "value": {"gradient": "linear", "x1": 1, "y1": 0, "x2": 0, "y2": 1, "stops": [{"offset": 0, "color": "#111"}, {"offset": 0.045, "color": "#111"}, {"offset": 0.045, "color": "rgba(0,0,0,0)"}, {"offset": 0.125, "color": "rgba(0,0,0,0)"}, {"offset": 0.125, "color": "#111"}, {"offset": 0.17, "color": "#111"}, {"offset": 0.17, "color": "rgba(0,0,0,0)"}, {"offset": 0.25, "color": "rgba(0,0,0,0)"}, {"offset": 0.25, "color": "#111"}, {"offset": 0.295, "color": "#111"}, {"offset": 0.295, "color": "rgba(0,0,0,0)"}, {"offset": 0.375, "color": "rgba(0,0,0,0)"}, {"offset": 0.375, "color": "#111"}, {"offset": 0.42, "color": "#111"}, {"offset": 0.42, "color": "rgba(0,0,0,0)"}, {"offset": 0.5, "color": "rgba(0,0,0,0)"}, {"offset": 0.5, "color": "#111"}, {"offset": 0.545, "color": "#111"}, {"offset": 0.545, "color": "rgba(0,0,0,0)"}, {"offset": 0.625, "color": "rgba(0,0,0,0)"}, {"offset": 0.625, "color": "#111"}, {"offset": 0.67, "color": "#111"}, {"offset": 0.67, "color": "rgba(0,0,0,0)"}, {"offset": 0.75, "color": "rgba(0,0,0,0)"}, {"offset": 0.75, "color": "#111"}, {"offset": 0.795, "color": "#111"}, {"offset": 0.795, "color": "rgba(0,0,0,0)"}, {"offset": 0.875, "color": "rgba(0,0,0,0)"}, {"offset": 0.875, "color": "#111"}, {"offset": 0.92, "color": "#111"}, {"offset": 0.92, "color": "rgba(0,0,0,0)"}, {"offset": 1, "color": "rgba(0,0,0,0)"}]}}
            ], "value": {"gradient": "linear", "x1": 1, "y1": 0, "x2": 0, "y2": 1, "stops": [{"offset": 0, "color": "rgba(0,0,0,0)"}, {"offset": 0.165, "color": "rgba(0,0,0,0)"}, {"offset": 0.165, "color": "#222"}, {"offset": 0.2, "color": "#222"}, {"offset": 0.2, "color": "rgba(0,0,0,0)"}, {"offset": 0.365, "color": "rgba(0,0,0,0)"}, {"offset": 0.365, "color": "#222"}, {"offset": 0.4, "color": "#222"}, {"offset": 0.4, "color": "rgba(0,0,0,0)"}, {"offset": 0.565, "color": "rgba(0,0,0,0)"}, {"offset": 0.565, "color": "#222"}, {"offset": 0.6, "color": "#222"}, {"offset": 0.6, "color": "rgba(0,0,0,0)"}, {"offset": 0.765, "color": "rgba(0,0,0,0)"}, {"offset": 0.765, "color": "#222"}, {"offset": 0.8, "color": "#222"}, {"offset": 0.8, "color": "rgba(0,0,0,0)"}, {"offset": 0.965, "color": "rgba(0,0,0,0)"}, {"offset": 0.965, "color": "#222"}, {"offset": 1, "color": "#222"}]}}
          }
        },
        {
          "data": {"name": "vectors"},
          "transform": [{"filter": "datum.site === 'NE'"}, {"calculate": "0", "as": "o"}, {"calculate": "datum.pct * sin(datum.deg * PI / 180)", "as": "ex"}, {"calculate": "datum.pct * cos(datum.deg * PI / 180)", "as": "ey"}],
          "mark": {"type": "rule", "stroke": "#000", "strokeWidth": 2},
          "encoding": {"x": {"field": "o", "type": "quantitative"}, "y": {"field": "o", "type": "quantitative"}, "x2": {"field": "ex"}, "y2": {"field": "ey"}}
        },
        {"data": {"values": [{}]}, "mark": {"type": "point", "shape": "circle", "size": 70, "filled": true, "fill": "#fff", "stroke": "#000", "strokeWidth": 1, "opacity": 1}, "encoding": {"x": {"datum": 0, "type": "quantitative"}, "y": {"datum": 0, "type": "quantitative"}}},
        {
          "data": {"name": "rings"},
          "transform": [{"filter": "datum.site === 'NE'"}, {"calculate": "7.8 + 0.71 * datum.r", "as": "lx"}, {"calculate": "-9.6 + 0.69 * datum.r", "as": "ly"}],
          "mark": {"type": "text", "font": "Liberation Serif", "fontSize": 20, "align": "center", "baseline": "middle", "fill": "#000"},
          "encoding": {"x": {"field": "lx", "type": "quantitative"}, "y": {"field": "ly", "type": "quantitative"}, "text": {"field": "lab"}}
        },
        {
          "data": {"name": "compass"},
          "transform": [{"calculate": "60 * (0.92 * sin(datum.d * PI / 180) + 0.055 * abs(cos(datum.d * PI / 180)))", "as": "cx"}, {"calculate": "60 * (0.96 * cos(datum.d * PI / 180) - 0.12)", "as": "cy"}],
          "mark": {"type": "text", "font": "Liberation Serif", "fontSize": 21, "align": "center", "baseline": "middle", "fill": "#000"},
          "encoding": {"x": {"field": "cx", "type": "quantitative"}, "y": {"field": "cy", "type": "quantitative"}, "text": {"field": "lab"}}
        },
        {"data": {"name": "vectors"}, "transform": [{"filter": "datum.site === 'NE'"}], "mark": {"type": "text", "font": "Liberation Serif", "fontSize": 25, "fontWeight": "bold", "align": "center", "baseline": "middle", "fill": "#000"}, "encoding": {"x": {"datum": 2.29, "type": "quantitative"}, "y": {"datum": 75.14, "type": "quantitative"}, "text": {"field": "site"}}},
        {"data": {"name": "vectors"}, "transform": [{"filter": "datum.site === 'NE'"}], "mark": {"type": "text", "font": "Liberation Serif", "fontSize": 18, "align": "left", "baseline": "middle", "fill": "#000"}, "encoding": {"x": {"datum": -60.46, "type": "quantitative"}, "y": {"datum": -62.7, "type": "quantitative"}, "text": {"field": "head"}}},
        {"data": {"name": "vectors"}, "transform": [{"filter": "datum.site === 'NE'"}, {"calculate": "datum.deg + ' deg - ' + datum.pct + '%'", "as": "line2"}], "mark": {"type": "text", "font": "Liberation Serif", "fontSize": 18, "align": "left", "baseline": "middle", "fill": "#000"}, "encoding": {"x": {"datum": -61.37, "type": "quantitative"}, "y": {"datum": -76.76, "type": "quantitative"}, "text": {"field": "line2"}}},
        {"data": {"name": "vectors"}, "transform": [{"filter": "datum.site === 'NE'"}], "mark": {"type": "text", "font": "Liberation Serif", "fontSize": 18, "align": "left", "baseline": "middle", "fill": "#000"}, "encoding": {"x": {"datum": -61.37, "type": "quantitative"}, "y": {"datum": -87.57, "type": "quantitative"}, "text": {"field": "calm"}}}
      ]
    },
    {
      "layer": [
        {
          "data": {"name": "rings"},
          "transform": [{"filter": "datum.site === 'SW'"}],
          "mark": {"type": "point", "shape": "M1,0C1,0.4678,0.5523,0.847,0,0.847C-0.5523,0.847,-1,0.4678,-1,0C-1,-0.4678,-0.5523,-0.847,0,-0.847C0.5523,-0.847,1,-0.4678,1,0Z", "filled": false, "stroke": "#3a3aa8", "strokeWidth": 1, "strokeDash": [3, 2], "opacity": 1},
          "encoding": {
            "x": {"datum": 0, "type": "quantitative", "scale": {"domain": [-27.1, 136.07], "nice": false, "zero": false}, "axis": null},
            "y": {"datum": 0, "type": "quantitative", "scale": {"domain": [-40.54, 111.04], "nice": false, "zero": false}, "axis": null},
            "size": {"field": "r", "type": "quantitative", "scale": {"type": "pow", "exponent": 2, "domain": [0, 25], "range": [0, 68644]}, "legend": null}
          }
        },
        {"data": {"values": [{}]}, "mark": {"type": "rule", "stroke": "#3a3aa8", "strokeWidth": 1, "strokeDash": [3, 2]}, "encoding": {"x": {"datum": -25, "type": "quantitative"}, "x2": {"datum": 25}, "y": {"datum": 0, "type": "quantitative"}}},
        {"data": {"values": [{}]}, "mark": {"type": "rule", "stroke": "#3a3aa8", "strokeWidth": 1, "strokeDash": [3, 2]}, "encoding": {"y": {"datum": -25, "type": "quantitative"}, "y2": {"datum": 25}, "x": {"datum": 0, "type": "quantitative"}}},
        {
          "data": {"name": "wedges"},
          "transform": [
            {"filter": "datum.site === 'SW'"},
            {"stack": "pct", "groupby": ["dir"], "sort": [{"field": "cls", "order": "ascending"}], "as": ["r0", "r1"]},
            {"calculate": "datum.dir - 11", "as": "t0"},
            {"calculate": "datum.dir + 11", "as": "t1"}
          ],
          "mark": {"type": "arc", "stroke": "#000", "strokeWidth": 0.7},
          "encoding": {
            "x": {"datum": 0, "type": "quantitative"},
            "y": {"datum": 0, "type": "quantitative"},
            "theta": {"field": "t0", "type": "quantitative", "stack": null, "scale": {"domain": [0, 360], "range": [0, 6.283185307179586], "zero": false, "nice": false}},
            "theta2": {"field": "t1"},
            "radius": {"field": "r1", "type": "quantitative", "stack": null, "scale": {"type": "linear", "domain": [0, 25], "range": [0, 118], "zero": true, "nice": false}},
            "radius2": {"field": "r0"},
            "fill": {"condition": [
              {"test": "datum.cls === 'c1'", "value": {"gradient": "linear", "x1": 0, "y1": 0, "x2": 1, "y2": 1, "stops": [{"offset": 0, "color": "#111"}, {"offset": 0.0625, "color": "#111"}, {"offset": 0.0625, "color": "#fff"}, {"offset": 0.125, "color": "#fff"}, {"offset": 0.125, "color": "#111"}, {"offset": 0.1875, "color": "#111"}, {"offset": 0.1875, "color": "#fff"}, {"offset": 0.25, "color": "#fff"}, {"offset": 0.25, "color": "#111"}, {"offset": 0.3125, "color": "#111"}, {"offset": 0.3125, "color": "#fff"}, {"offset": 0.375, "color": "#fff"}, {"offset": 0.375, "color": "#111"}, {"offset": 0.4375, "color": "#111"}, {"offset": 0.4375, "color": "#fff"}, {"offset": 0.5, "color": "#fff"}, {"offset": 0.5, "color": "#111"}, {"offset": 0.5625, "color": "#111"}, {"offset": 0.5625, "color": "#fff"}, {"offset": 0.625, "color": "#fff"}, {"offset": 0.625, "color": "#111"}, {"offset": 0.6875, "color": "#111"}, {"offset": 0.6875, "color": "#fff"}, {"offset": 0.75, "color": "#fff"}, {"offset": 0.75, "color": "#111"}, {"offset": 0.8125, "color": "#111"}, {"offset": 0.8125, "color": "#fff"}, {"offset": 0.875, "color": "#fff"}, {"offset": 0.875, "color": "#111"}, {"offset": 0.9375, "color": "#111"}, {"offset": 0.9375, "color": "#fff"}, {"offset": 1, "color": "#fff"}]}},
              {"test": "datum.cls === 'c3'", "value": {"gradient": "linear", "x1": 0, "y1": 0, "x2": 1, "y2": 1, "stops": [{"offset": 0, "color": "#fff"}, {"offset": 0.165, "color": "#fff"}, {"offset": 0.165, "color": "#222"}, {"offset": 0.2, "color": "#222"}, {"offset": 0.2, "color": "#fff"}, {"offset": 0.365, "color": "#fff"}, {"offset": 0.365, "color": "#222"}, {"offset": 0.4, "color": "#222"}, {"offset": 0.4, "color": "#fff"}, {"offset": 0.565, "color": "#fff"}, {"offset": 0.565, "color": "#222"}, {"offset": 0.6, "color": "#222"}, {"offset": 0.6, "color": "#fff"}, {"offset": 0.765, "color": "#fff"}, {"offset": 0.765, "color": "#222"}, {"offset": 0.8, "color": "#222"}, {"offset": 0.8, "color": "#fff"}, {"offset": 0.965, "color": "#fff"}, {"offset": 0.965, "color": "#222"}, {"offset": 1, "color": "#222"}]}},
              {"test": "datum.cls === 'c4'", "value": "#808080"},
              {"test": "datum.cls === 'c5'", "value": "#ffffff"},
              {"test": "datum.cls === 'c6'", "value": "#aaaaaa"}
            ], "value": "#555555"}
          }
        },
        {
          "data": {"name": "wedges"},
          "transform": [
            {"filter": "datum.site === 'SW'"},
            {"stack": "pct", "groupby": ["dir"], "sort": [{"field": "cls", "order": "ascending"}], "as": ["r0", "r1"]},
            {"calculate": "datum.dir - 11", "as": "t0"},
            {"calculate": "datum.dir + 11", "as": "t1"},
            {"filter": "datum.cls === 'c3' || datum.cls === 'c1'"}
          ],
          "mark": {"type": "arc", "strokeWidth": 0},
          "encoding": {
            "x": {"datum": 0, "type": "quantitative"},
            "y": {"datum": 0, "type": "quantitative"},
            "theta": {"field": "t0", "type": "quantitative", "stack": null},
            "theta2": {"field": "t1"},
            "radius": {"field": "r1", "type": "quantitative", "stack": null},
            "radius2": {"field": "r0"},
            "fill": {"condition": [
              {"test": "datum.cls === 'c1'", "value": {"gradient": "linear", "x1": 1, "y1": 0, "x2": 0, "y2": 1, "stops": [{"offset": 0, "color": "#111"}, {"offset": 0.045, "color": "#111"}, {"offset": 0.045, "color": "rgba(0,0,0,0)"}, {"offset": 0.125, "color": "rgba(0,0,0,0)"}, {"offset": 0.125, "color": "#111"}, {"offset": 0.17, "color": "#111"}, {"offset": 0.17, "color": "rgba(0,0,0,0)"}, {"offset": 0.25, "color": "rgba(0,0,0,0)"}, {"offset": 0.25, "color": "#111"}, {"offset": 0.295, "color": "#111"}, {"offset": 0.295, "color": "rgba(0,0,0,0)"}, {"offset": 0.375, "color": "rgba(0,0,0,0)"}, {"offset": 0.375, "color": "#111"}, {"offset": 0.42, "color": "#111"}, {"offset": 0.42, "color": "rgba(0,0,0,0)"}, {"offset": 0.5, "color": "rgba(0,0,0,0)"}, {"offset": 0.5, "color": "#111"}, {"offset": 0.545, "color": "#111"}, {"offset": 0.545, "color": "rgba(0,0,0,0)"}, {"offset": 0.625, "color": "rgba(0,0,0,0)"}, {"offset": 0.625, "color": "#111"}, {"offset": 0.67, "color": "#111"}, {"offset": 0.67, "color": "rgba(0,0,0,0)"}, {"offset": 0.75, "color": "rgba(0,0,0,0)"}, {"offset": 0.75, "color": "#111"}, {"offset": 0.795, "color": "#111"}, {"offset": 0.795, "color": "rgba(0,0,0,0)"}, {"offset": 0.875, "color": "rgba(0,0,0,0)"}, {"offset": 0.875, "color": "#111"}, {"offset": 0.92, "color": "#111"}, {"offset": 0.92, "color": "rgba(0,0,0,0)"}, {"offset": 1, "color": "rgba(0,0,0,0)"}]}}
            ], "value": {"gradient": "linear", "x1": 1, "y1": 0, "x2": 0, "y2": 1, "stops": [{"offset": 0, "color": "rgba(0,0,0,0)"}, {"offset": 0.165, "color": "rgba(0,0,0,0)"}, {"offset": 0.165, "color": "#222"}, {"offset": 0.2, "color": "#222"}, {"offset": 0.2, "color": "rgba(0,0,0,0)"}, {"offset": 0.365, "color": "rgba(0,0,0,0)"}, {"offset": 0.365, "color": "#222"}, {"offset": 0.4, "color": "#222"}, {"offset": 0.4, "color": "rgba(0,0,0,0)"}, {"offset": 0.565, "color": "rgba(0,0,0,0)"}, {"offset": 0.565, "color": "#222"}, {"offset": 0.6, "color": "#222"}, {"offset": 0.6, "color": "rgba(0,0,0,0)"}, {"offset": 0.765, "color": "rgba(0,0,0,0)"}, {"offset": 0.765, "color": "#222"}, {"offset": 0.8, "color": "#222"}, {"offset": 0.8, "color": "rgba(0,0,0,0)"}, {"offset": 0.965, "color": "rgba(0,0,0,0)"}, {"offset": 0.965, "color": "#222"}, {"offset": 1, "color": "#222"}]}}
          }
        },
        {
          "data": {"name": "vectors"},
          "transform": [{"filter": "datum.site === 'SW'"}, {"calculate": "0", "as": "o"}, {"calculate": "datum.pct * sin(datum.deg * PI / 180)", "as": "ex"}, {"calculate": "datum.pct * cos(datum.deg * PI / 180)", "as": "ey"}],
          "mark": {"type": "rule", "stroke": "#000", "strokeWidth": 2},
          "encoding": {"x": {"field": "o", "type": "quantitative"}, "y": {"field": "o", "type": "quantitative"}, "x2": {"field": "ex"}, "y2": {"field": "ey"}}
        },
        {"data": {"values": [{}]}, "mark": {"type": "point", "shape": "circle", "size": 70, "filled": true, "fill": "#fff", "stroke": "#000", "strokeWidth": 1, "opacity": 1}, "encoding": {"x": {"datum": 0, "type": "quantitative"}, "y": {"datum": 0, "type": "quantitative"}}},
        {
          "data": {"name": "rings"},
          "transform": [{"filter": "datum.site === 'SW'"}, {"calculate": "7.5 + 0.64 * datum.r", "as": "lx"}, {"calculate": "-5.75 + 0.69 * datum.r", "as": "ly"}],
          "mark": {"type": "text", "font": "Liberation Serif", "fontSize": 20, "align": "center", "baseline": "middle", "fill": "#000"},
          "encoding": {"x": {"field": "lx", "type": "quantitative"}, "y": {"field": "ly", "type": "quantitative"}, "text": {"field": "lab"}}
        },
        {
          "data": {"name": "compass"},
          "transform": [{"calculate": "25 * (0.92 * sin(datum.d * PI / 180) + 0.055 * abs(cos(datum.d * PI / 180)))", "as": "cx"}, {"calculate": "25 * (0.96 * cos(datum.d * PI / 180) - 0.12)", "as": "cy"}],
          "mark": {"type": "text", "font": "Liberation Serif", "fontSize": 21, "align": "center", "baseline": "middle", "fill": "#000"},
          "encoding": {"x": {"field": "cx", "type": "quantitative"}, "y": {"field": "cy", "type": "quantitative"}, "text": {"field": "lab"}}
        },
        {"data": {"name": "vectors"}, "transform": [{"filter": "datum.site === 'SW'"}], "mark": {"type": "text", "font": "Liberation Serif", "fontSize": 25, "fontWeight": "bold", "align": "center", "baseline": "middle", "fill": "#000"}, "encoding": {"x": {"datum": 1.15, "type": "quantitative"}, "y": {"datum": 28.38, "type": "quantitative"}, "text": {"field": "site"}}},
        {"data": {"name": "vectors"}, "transform": [{"filter": "datum.site === 'SW'"}], "mark": {"type": "text", "font": "Liberation Serif", "fontSize": 18, "align": "left", "baseline": "middle", "fill": "#000"}, "encoding": {"x": {"datum": -23.66, "type": "quantitative"}, "y": {"datum": -28.38, "type": "quantitative"}, "text": {"field": "head"}}},
        {"data": {"name": "vectors"}, "transform": [{"filter": "datum.site === 'SW'"}, {"calculate": "datum.deg + ' deg - ' + datum.pct + '%'", "as": "line2"}], "mark": {"type": "text", "font": "Liberation Serif", "fontSize": 18, "align": "left", "baseline": "middle", "fill": "#000"}, "encoding": {"x": {"datum": -24.81, "type": "quantitative"}, "y": {"datum": -32.66, "type": "quantitative"}, "text": {"field": "line2"}}},
        {"data": {"name": "vectors"}, "transform": [{"filter": "datum.site === 'SW'"}], "mark": {"type": "text", "font": "Liberation Serif", "fontSize": 18, "align": "left", "baseline": "middle", "fill": "#000"}, "encoding": {"x": {"datum": -25.19, "type": "quantitative"}, "y": {"datum": -37.16, "type": "quantitative"}, "text": {"field": "calm"}}}
      ]
    },
    {
      "layer": [
        {
          "data": {"name": "rings"},
          "transform": [{"filter": "datum.site === 'SE'"}],
          "mark": {"type": "point", "shape": "M1,0C1,0.4678,0.5523,0.847,0,0.847C-0.5523,0.847,-1,0.4678,-1,0C-1,-0.4678,-0.5523,-0.847,0,-0.847C0.5523,-0.847,1,-0.4678,1,0Z", "filled": false, "stroke": "#3a3aa8", "strokeWidth": 1, "strokeDash": [3, 2], "opacity": 1},
          "encoding": {
            "x": {"datum": 0, "type": "quantitative", "scale": {"domain": [-211.3, 49.77], "nice": false, "zero": false}, "axis": null},
            "y": {"datum": 0, "type": "quantitative", "scale": {"domain": [-66.67, 175.86], "nice": false, "zero": false}, "axis": null},
            "size": {"field": "r", "type": "quantitative", "scale": {"type": "pow", "exponent": 2, "domain": [0, 40], "range": [0, 68644]}, "legend": null}
          }
        },
        {"data": {"values": [{}]}, "mark": {"type": "rule", "stroke": "#3a3aa8", "strokeWidth": 1, "strokeDash": [3, 2]}, "encoding": {"x": {"datum": -40, "type": "quantitative"}, "x2": {"datum": 40}, "y": {"datum": 0, "type": "quantitative"}}},
        {"data": {"values": [{}]}, "mark": {"type": "rule", "stroke": "#3a3aa8", "strokeWidth": 1, "strokeDash": [3, 2]}, "encoding": {"y": {"datum": -40, "type": "quantitative"}, "y2": {"datum": 40}, "x": {"datum": 0, "type": "quantitative"}}},
        {
          "data": {"name": "wedges"},
          "transform": [
            {"filter": "datum.site === 'SE'"},
            {"stack": "pct", "groupby": ["dir"], "sort": [{"field": "cls", "order": "ascending"}], "as": ["r0", "r1"]},
            {"calculate": "datum.dir - 11", "as": "t0"},
            {"calculate": "datum.dir + 11", "as": "t1"}
          ],
          "mark": {"type": "arc", "stroke": "#000", "strokeWidth": 0.7},
          "encoding": {
            "x": {"datum": 0, "type": "quantitative"},
            "y": {"datum": 0, "type": "quantitative"},
            "theta": {"field": "t0", "type": "quantitative", "stack": null, "scale": {"domain": [0, 360], "range": [0, 6.283185307179586], "zero": false, "nice": false}},
            "theta2": {"field": "t1"},
            "radius": {"field": "r1", "type": "quantitative", "stack": null, "scale": {"type": "linear", "domain": [0, 40], "range": [0, 118], "zero": true, "nice": false}},
            "radius2": {"field": "r0"},
            "fill": {"condition": [
              {"test": "datum.cls === 'c1'", "value": {"gradient": "linear", "x1": 0, "y1": 0, "x2": 1, "y2": 1, "stops": [{"offset": 0, "color": "#111"}, {"offset": 0.0625, "color": "#111"}, {"offset": 0.0625, "color": "#fff"}, {"offset": 0.125, "color": "#fff"}, {"offset": 0.125, "color": "#111"}, {"offset": 0.1875, "color": "#111"}, {"offset": 0.1875, "color": "#fff"}, {"offset": 0.25, "color": "#fff"}, {"offset": 0.25, "color": "#111"}, {"offset": 0.3125, "color": "#111"}, {"offset": 0.3125, "color": "#fff"}, {"offset": 0.375, "color": "#fff"}, {"offset": 0.375, "color": "#111"}, {"offset": 0.4375, "color": "#111"}, {"offset": 0.4375, "color": "#fff"}, {"offset": 0.5, "color": "#fff"}, {"offset": 0.5, "color": "#111"}, {"offset": 0.5625, "color": "#111"}, {"offset": 0.5625, "color": "#fff"}, {"offset": 0.625, "color": "#fff"}, {"offset": 0.625, "color": "#111"}, {"offset": 0.6875, "color": "#111"}, {"offset": 0.6875, "color": "#fff"}, {"offset": 0.75, "color": "#fff"}, {"offset": 0.75, "color": "#111"}, {"offset": 0.8125, "color": "#111"}, {"offset": 0.8125, "color": "#fff"}, {"offset": 0.875, "color": "#fff"}, {"offset": 0.875, "color": "#111"}, {"offset": 0.9375, "color": "#111"}, {"offset": 0.9375, "color": "#fff"}, {"offset": 1, "color": "#fff"}]}},
              {"test": "datum.cls === 'c3'", "value": {"gradient": "linear", "x1": 0, "y1": 0, "x2": 1, "y2": 1, "stops": [{"offset": 0, "color": "#fff"}, {"offset": 0.165, "color": "#fff"}, {"offset": 0.165, "color": "#222"}, {"offset": 0.2, "color": "#222"}, {"offset": 0.2, "color": "#fff"}, {"offset": 0.365, "color": "#fff"}, {"offset": 0.365, "color": "#222"}, {"offset": 0.4, "color": "#222"}, {"offset": 0.4, "color": "#fff"}, {"offset": 0.565, "color": "#fff"}, {"offset": 0.565, "color": "#222"}, {"offset": 0.6, "color": "#222"}, {"offset": 0.6, "color": "#fff"}, {"offset": 0.765, "color": "#fff"}, {"offset": 0.765, "color": "#222"}, {"offset": 0.8, "color": "#222"}, {"offset": 0.8, "color": "#fff"}, {"offset": 0.965, "color": "#fff"}, {"offset": 0.965, "color": "#222"}, {"offset": 1, "color": "#222"}]}},
              {"test": "datum.cls === 'c4'", "value": "#808080"},
              {"test": "datum.cls === 'c5'", "value": "#ffffff"},
              {"test": "datum.cls === 'c6'", "value": "#aaaaaa"}
            ], "value": "#555555"}
          }
        },
        {
          "data": {"name": "wedges"},
          "transform": [
            {"filter": "datum.site === 'SE'"},
            {"stack": "pct", "groupby": ["dir"], "sort": [{"field": "cls", "order": "ascending"}], "as": ["r0", "r1"]},
            {"calculate": "datum.dir - 11", "as": "t0"},
            {"calculate": "datum.dir + 11", "as": "t1"},
            {"filter": "datum.cls === 'c3' || datum.cls === 'c1'"}
          ],
          "mark": {"type": "arc", "strokeWidth": 0},
          "encoding": {
            "x": {"datum": 0, "type": "quantitative"},
            "y": {"datum": 0, "type": "quantitative"},
            "theta": {"field": "t0", "type": "quantitative", "stack": null},
            "theta2": {"field": "t1"},
            "radius": {"field": "r1", "type": "quantitative", "stack": null},
            "radius2": {"field": "r0"},
            "fill": {"condition": [
              {"test": "datum.cls === 'c1'", "value": {"gradient": "linear", "x1": 1, "y1": 0, "x2": 0, "y2": 1, "stops": [{"offset": 0, "color": "#111"}, {"offset": 0.045, "color": "#111"}, {"offset": 0.045, "color": "rgba(0,0,0,0)"}, {"offset": 0.125, "color": "rgba(0,0,0,0)"}, {"offset": 0.125, "color": "#111"}, {"offset": 0.17, "color": "#111"}, {"offset": 0.17, "color": "rgba(0,0,0,0)"}, {"offset": 0.25, "color": "rgba(0,0,0,0)"}, {"offset": 0.25, "color": "#111"}, {"offset": 0.295, "color": "#111"}, {"offset": 0.295, "color": "rgba(0,0,0,0)"}, {"offset": 0.375, "color": "rgba(0,0,0,0)"}, {"offset": 0.375, "color": "#111"}, {"offset": 0.42, "color": "#111"}, {"offset": 0.42, "color": "rgba(0,0,0,0)"}, {"offset": 0.5, "color": "rgba(0,0,0,0)"}, {"offset": 0.5, "color": "#111"}, {"offset": 0.545, "color": "#111"}, {"offset": 0.545, "color": "rgba(0,0,0,0)"}, {"offset": 0.625, "color": "rgba(0,0,0,0)"}, {"offset": 0.625, "color": "#111"}, {"offset": 0.67, "color": "#111"}, {"offset": 0.67, "color": "rgba(0,0,0,0)"}, {"offset": 0.75, "color": "rgba(0,0,0,0)"}, {"offset": 0.75, "color": "#111"}, {"offset": 0.795, "color": "#111"}, {"offset": 0.795, "color": "rgba(0,0,0,0)"}, {"offset": 0.875, "color": "rgba(0,0,0,0)"}, {"offset": 0.875, "color": "#111"}, {"offset": 0.92, "color": "#111"}, {"offset": 0.92, "color": "rgba(0,0,0,0)"}, {"offset": 1, "color": "rgba(0,0,0,0)"}]}}
            ], "value": {"gradient": "linear", "x1": 1, "y1": 0, "x2": 0, "y2": 1, "stops": [{"offset": 0, "color": "rgba(0,0,0,0)"}, {"offset": 0.165, "color": "rgba(0,0,0,0)"}, {"offset": 0.165, "color": "#222"}, {"offset": 0.2, "color": "#222"}, {"offset": 0.2, "color": "rgba(0,0,0,0)"}, {"offset": 0.365, "color": "rgba(0,0,0,0)"}, {"offset": 0.365, "color": "#222"}, {"offset": 0.4, "color": "#222"}, {"offset": 0.4, "color": "rgba(0,0,0,0)"}, {"offset": 0.565, "color": "rgba(0,0,0,0)"}, {"offset": 0.565, "color": "#222"}, {"offset": 0.6, "color": "#222"}, {"offset": 0.6, "color": "rgba(0,0,0,0)"}, {"offset": 0.765, "color": "rgba(0,0,0,0)"}, {"offset": 0.765, "color": "#222"}, {"offset": 0.8, "color": "#222"}, {"offset": 0.8, "color": "rgba(0,0,0,0)"}, {"offset": 0.965, "color": "rgba(0,0,0,0)"}, {"offset": 0.965, "color": "#222"}, {"offset": 1, "color": "#222"}]}}
          }
        },
        {
          "data": {"name": "vectors"},
          "transform": [{"filter": "datum.site === 'SE'"}, {"calculate": "0", "as": "o"}, {"calculate": "datum.pct * sin(datum.deg * PI / 180)", "as": "ex"}, {"calculate": "datum.pct * cos(datum.deg * PI / 180)", "as": "ey"}],
          "mark": {"type": "rule", "stroke": "#000", "strokeWidth": 2},
          "encoding": {"x": {"field": "o", "type": "quantitative"}, "y": {"field": "o", "type": "quantitative"}, "x2": {"field": "ex"}, "y2": {"field": "ey"}}
        },
        {"data": {"values": [{}]}, "mark": {"type": "point", "shape": "circle", "size": 70, "filled": true, "fill": "#fff", "stroke": "#000", "strokeWidth": 1, "opacity": 1}, "encoding": {"x": {"datum": 0, "type": "quantitative"}, "y": {"datum": 0, "type": "quantitative"}}},
        {
          "data": {"name": "rings"},
          "transform": [{"filter": "datum.site === 'SE'"}, {"calculate": "6.4 + 0.62 * datum.r", "as": "lx"}, {"calculate": "-7.6 + 0.73 * datum.r", "as": "ly"}],
          "mark": {"type": "text", "font": "Liberation Serif", "fontSize": 20, "align": "center", "baseline": "middle", "fill": "#000"},
          "encoding": {"x": {"field": "lx", "type": "quantitative"}, "y": {"field": "ly", "type": "quantitative"}, "text": {"field": "lab"}}
        },
        {
          "data": {"name": "compass"},
          "transform": [{"calculate": "40 * (0.92 * sin(datum.d * PI / 180) + 0.055 * abs(cos(datum.d * PI / 180)))", "as": "cx"}, {"calculate": "40 * (0.96 * cos(datum.d * PI / 180) - 0.12)", "as": "cy"}],
          "mark": {"type": "text", "font": "Liberation Serif", "fontSize": 21, "align": "center", "baseline": "middle", "fill": "#000"},
          "encoding": {"x": {"field": "cx", "type": "quantitative"}, "y": {"field": "cy", "type": "quantitative"}, "text": {"field": "lab"}}
        },
        {"data": {"name": "vectors"}, "transform": [{"filter": "datum.site === 'SE'"}], "mark": {"type": "text", "font": "Liberation Serif", "fontSize": 25, "fontWeight": "bold", "align": "center", "baseline": "middle", "fill": "#000"}, "encoding": {"x": {"datum": 3.05, "type": "quantitative"}, "y": {"datum": 45.05, "type": "quantitative"}, "text": {"field": "site"}}},
        {"data": {"name": "vectors"}, "transform": [{"filter": "datum.site === 'SE'"}], "mark": {"type": "text", "font": "Liberation Serif", "fontSize": 18, "align": "left", "baseline": "middle", "fill": "#000"}, "encoding": {"x": {"datum": -42.44, "type": "quantitative"}, "y": {"datum": -46.49, "type": "quantitative"}, "text": {"field": "head"}}},
        {"data": {"name": "vectors"}, "transform": [{"filter": "datum.site === 'SE'"}, {"calculate": "datum.deg + ' deg - ' + datum.pct + '%'", "as": "line2"}], "mark": {"type": "text", "font": "Liberation Serif", "fontSize": 18, "align": "left", "baseline": "middle", "fill": "#000"}, "encoding": {"x": {"datum": -42.75, "type": "quantitative"}, "y": {"datum": -55.14, "type": "quantitative"}, "text": {"field": "line2"}}},
        {"data": {"name": "vectors"}, "transform": [{"filter": "datum.site === 'SE'"}], "mark": {"type": "text", "font": "Liberation Serif", "fontSize": 18, "align": "left", "baseline": "middle", "fill": "#000"}, "encoding": {"x": {"datum": -43.05, "type": "quantitative"}, "y": {"datum": -62.7, "type": "quantitative"}, "text": {"field": "calm"}}}
      ]
    },
    {
      "layer": [
        {
          "data": {"values": [{}]},
          "mark": {"type": "rect", "fill": "transparent", "stroke": "#b8b8b8", "strokeWidth": 1},
          "encoding": {
            "x": {"datum": 0, "type": "quantitative", "scale": {"domain": [-21.195, 32.579], "nice": false, "zero": false}, "axis": null},
            "x2": {"datum": 10},
            "y": {"datum": -2.0, "type": "quantitative", "scale": {"domain": [-18.02, 9.34], "reverse": true, "nice": false, "zero": false}, "axis": null},
            "y2": {"datum": 6.65}
          }
        },
        {"data": {"values": [{}]}, "mark": {"type": "text", "text": "WIND SPEED", "font": "Liberation Sans", "fontSize": 18, "align": "left", "baseline": "middle", "fill": "#222"}, "encoding": {"x": {"datum": 0.88, "type": "quantitative"}, "y": {"datum": -1.03, "type": "quantitative"}}},
        {"data": {"values": [{}]}, "mark": {"type": "text", "text": "(m/s)", "font": "Liberation Sans", "fontSize": 18, "align": "left", "baseline": "middle", "fill": "#222"}, "encoding": {"x": {"datum": 0.88, "type": "quantitative"}, "y": {"datum": -0.22, "type": "quantitative"}}},
        {
          "data": {"name": "classes"},
          "mark": {"type": "point", "shape": "M-1,-0.514H1V0.514H-1Z", "size": 1225, "filled": true, "stroke": "#111", "strokeWidth": 1, "opacity": 1},
          "encoding": {
            "x": {"datum": 2.04, "type": "quantitative"},
            "y": {"field": "k", "type": "quantitative"},
            "fill": {"condition": [
              {"test": "datum.cls === 'c1'", "value": {"gradient": "linear", "x1": 0, "y1": 0, "x2": 1, "y2": 1, "stops": [{"offset": 0, "color": "#111"}, {"offset": 0.0625, "color": "#111"}, {"offset": 0.0625, "color": "#fff"}, {"offset": 0.125, "color": "#fff"}, {"offset": 0.125, "color": "#111"}, {"offset": 0.1875, "color": "#111"}, {"offset": 0.1875, "color": "#fff"}, {"offset": 0.25, "color": "#fff"}, {"offset": 0.25, "color": "#111"}, {"offset": 0.3125, "color": "#111"}, {"offset": 0.3125, "color": "#fff"}, {"offset": 0.375, "color": "#fff"}, {"offset": 0.375, "color": "#111"}, {"offset": 0.4375, "color": "#111"}, {"offset": 0.4375, "color": "#fff"}, {"offset": 0.5, "color": "#fff"}, {"offset": 0.5, "color": "#111"}, {"offset": 0.5625, "color": "#111"}, {"offset": 0.5625, "color": "#fff"}, {"offset": 0.625, "color": "#fff"}, {"offset": 0.625, "color": "#111"}, {"offset": 0.6875, "color": "#111"}, {"offset": 0.6875, "color": "#fff"}, {"offset": 0.75, "color": "#fff"}, {"offset": 0.75, "color": "#111"}, {"offset": 0.8125, "color": "#111"}, {"offset": 0.8125, "color": "#fff"}, {"offset": 0.875, "color": "#fff"}, {"offset": 0.875, "color": "#111"}, {"offset": 0.9375, "color": "#111"}, {"offset": 0.9375, "color": "#fff"}, {"offset": 1, "color": "#fff"}]}},
              {"test": "datum.cls === 'c3'", "value": {"gradient": "linear", "x1": 0, "y1": 0, "x2": 1, "y2": 1, "stops": [{"offset": 0, "color": "#fff"}, {"offset": 0.165, "color": "#fff"}, {"offset": 0.165, "color": "#222"}, {"offset": 0.2, "color": "#222"}, {"offset": 0.2, "color": "#fff"}, {"offset": 0.365, "color": "#fff"}, {"offset": 0.365, "color": "#222"}, {"offset": 0.4, "color": "#222"}, {"offset": 0.4, "color": "#fff"}, {"offset": 0.565, "color": "#fff"}, {"offset": 0.565, "color": "#222"}, {"offset": 0.6, "color": "#222"}, {"offset": 0.6, "color": "#fff"}, {"offset": 0.765, "color": "#fff"}, {"offset": 0.765, "color": "#222"}, {"offset": 0.8, "color": "#222"}, {"offset": 0.8, "color": "#fff"}, {"offset": 0.965, "color": "#fff"}, {"offset": 0.965, "color": "#222"}, {"offset": 1, "color": "#222"}]}},
              {"test": "datum.cls === 'c4'", "value": "#808080"},
              {"test": "datum.cls === 'c5'", "value": {"gradient": "linear", "x1": 0, "y1": 0, "x2": 0, "y2": 1, "stops": [{"offset": 0, "color": "#fff"}, {"offset": 0.3, "color": "#fff"}, {"offset": 0.3, "color": "#111"}, {"offset": 0.37, "color": "#111"}, {"offset": 0.37, "color": "#fff"}, {"offset": 0.63, "color": "#fff"}, {"offset": 0.63, "color": "#111"}, {"offset": 0.7, "color": "#111"}, {"offset": 0.7, "color": "#fff"}, {"offset": 1, "color": "#fff"}]}},
              {"test": "datum.cls === 'c6'", "value": "#aaaaaa"}
            ], "value": "#555555"}
          }
        },
        {
          "data": {"name": "classes"},
          "transform": [{"filter": "datum.cls === 'c3' || datum.cls === 'c1'"}],
          "mark": {"type": "point", "shape": "M-1,-0.514H1V0.514H-1Z", "size": 1225, "filled": true, "strokeWidth": 0, "opacity": 1},
          "encoding": {
            "x": {"datum": 2.04, "type": "quantitative"},
            "y": {"field": "k", "type": "quantitative"},
            "fill": {"condition": [
              {"test": "datum.cls === 'c1'", "value": {"gradient": "linear", "x1": 1, "y1": 0, "x2": 0, "y2": 1, "stops": [{"offset": 0, "color": "#111"}, {"offset": 0.045, "color": "#111"}, {"offset": 0.045, "color": "rgba(0,0,0,0)"}, {"offset": 0.125, "color": "rgba(0,0,0,0)"}, {"offset": 0.125, "color": "#111"}, {"offset": 0.17, "color": "#111"}, {"offset": 0.17, "color": "rgba(0,0,0,0)"}, {"offset": 0.25, "color": "rgba(0,0,0,0)"}, {"offset": 0.25, "color": "#111"}, {"offset": 0.295, "color": "#111"}, {"offset": 0.295, "color": "rgba(0,0,0,0)"}, {"offset": 0.375, "color": "rgba(0,0,0,0)"}, {"offset": 0.375, "color": "#111"}, {"offset": 0.42, "color": "#111"}, {"offset": 0.42, "color": "rgba(0,0,0,0)"}, {"offset": 0.5, "color": "rgba(0,0,0,0)"}, {"offset": 0.5, "color": "#111"}, {"offset": 0.545, "color": "#111"}, {"offset": 0.545, "color": "rgba(0,0,0,0)"}, {"offset": 0.625, "color": "rgba(0,0,0,0)"}, {"offset": 0.625, "color": "#111"}, {"offset": 0.67, "color": "#111"}, {"offset": 0.67, "color": "rgba(0,0,0,0)"}, {"offset": 0.75, "color": "rgba(0,0,0,0)"}, {"offset": 0.75, "color": "#111"}, {"offset": 0.795, "color": "#111"}, {"offset": 0.795, "color": "rgba(0,0,0,0)"}, {"offset": 0.875, "color": "rgba(0,0,0,0)"}, {"offset": 0.875, "color": "#111"}, {"offset": 0.92, "color": "#111"}, {"offset": 0.92, "color": "rgba(0,0,0,0)"}, {"offset": 1, "color": "rgba(0,0,0,0)"}]}}
            ], "value": {"gradient": "linear", "x1": 1, "y1": 0, "x2": 0, "y2": 1, "stops": [{"offset": 0, "color": "rgba(0,0,0,0)"}, {"offset": 0.165, "color": "rgba(0,0,0,0)"}, {"offset": 0.165, "color": "#222"}, {"offset": 0.2, "color": "#222"}, {"offset": 0.2, "color": "rgba(0,0,0,0)"}, {"offset": 0.365, "color": "rgba(0,0,0,0)"}, {"offset": 0.365, "color": "#222"}, {"offset": 0.4, "color": "#222"}, {"offset": 0.4, "color": "rgba(0,0,0,0)"}, {"offset": 0.565, "color": "rgba(0,0,0,0)"}, {"offset": 0.565, "color": "#222"}, {"offset": 0.6, "color": "#222"}, {"offset": 0.6, "color": "rgba(0,0,0,0)"}, {"offset": 0.765, "color": "rgba(0,0,0,0)"}, {"offset": 0.765, "color": "#222"}, {"offset": 0.8, "color": "#222"}, {"offset": 0.8, "color": "rgba(0,0,0,0)"}, {"offset": 0.965, "color": "rgba(0,0,0,0)"}, {"offset": 0.965, "color": "#222"}, {"offset": 1, "color": "#222"}]}}
          }
        },
        {
          "data": {"name": "classes"},
          "mark": {"type": "text", "font": "Liberation Sans", "fontSize": 15, "align": "left", "baseline": "middle", "fill": "#222"},
          "encoding": {"x": {"datum": 4.09, "type": "quantitative"}, "y": {"field": "k", "type": "quantitative"}, "text": {"field": "lab"}}
        }
      ]
    }
  ],
  "resolve": {"scale": {"x": "independent", "y": "independent", "size": "independent", "radius": "independent", "theta": "independent"}}
}
